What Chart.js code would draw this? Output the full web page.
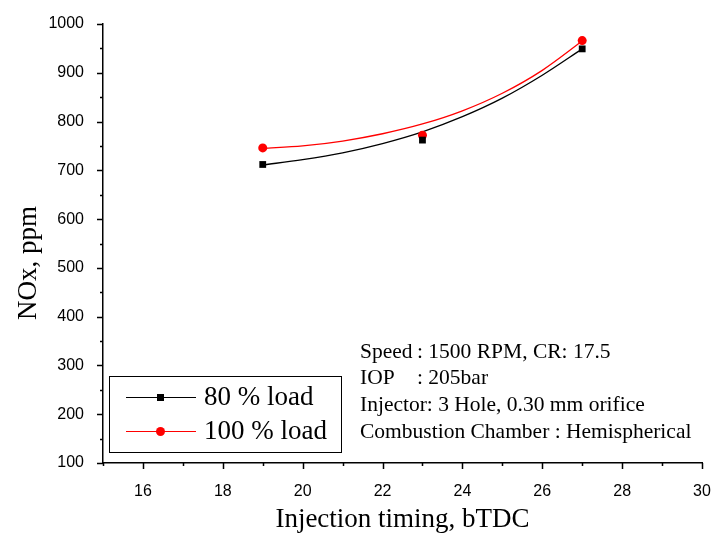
<!DOCTYPE html>
<html>
<head>
<meta charset="utf-8">
<script src="https://cdn.jsdelivr.net/npm/chart.js@4/dist/chart.umd.min.js"></script>
<style>
  body { margin: 0; background: #fff; }
  #wrap { width: 711px; height: 536px; position: relative; }
</style>
</head>
<body>
<div id="wrap"><canvas id="canvas"></canvas></div>
<script>
// measured points
var timing = [19, 23, 27];
var load80 = [712, 762, 949];
var load100 = [746, 772, 966];

// smooth fitted curves
var fitTiming = [19, 20, 21, 22, 23, 24, 25, 26, 27];
var fit80 = [711, 722, 736, 755, 779, 810, 848, 895, 949];
var fit100 = [745, 750, 760, 775, 795, 822, 858, 905, 965];

var xTickLabels = [16, 18, 20, 22, 24, 26, 28, 30];
var yTickLabels = [100, 200, 300, 400, 500, 600, 700, 800, 900, 1000];

var noteKeys = ['Speed', 'IOP', 'Injector: 3 Hole, 0.30 mm orifice', 'Combustion Chamber : Hemispherical'];
var noteVals = [': 1500 RPM, CR: 17.5', ': 205bar', '', ''];

function pts(xs, ys) {
    return xs.map(function (x, i) { return { x: x, y: ys[i] }; });
}

var serif = '"Liberation Serif", "Times New Roman", serif';
var sans = '"Liberation Sans", Arial, sans-serif';

// ticks, y title, legend and notes
var extras = {
    id: 'extras',
    afterDraw: function (chart) {
        var c = chart.ctx;
        var xs = chart.scales.x, ys = chart.scales.y;
        var a = chart.chartArea;
        c.save();
        c.strokeStyle = '#000';
        c.lineWidth = 1.5;
        c.beginPath();
        for (var v = 15; v <= 30; v++) {
            var px = Math.round(xs.getPixelForValue(v)) + 0.5;
            var len = (v % 2 === 0) ? 6 : 3;
            c.moveTo(px, a.bottom); c.lineTo(px, a.bottom + len);
        }
        for (var w = 100; w <= 1000; w += 50) {
            var py = Math.round(ys.getPixelForValue(w)) + 0.5;
            var l2 = (w % 100 === 0) ? 6 : 3;
            c.moveTo(a.left, py); c.lineTo(a.left - l2, py);
        }
        c.stroke();

        // y title
        c.fillStyle = '#000';
        c.font = '27px ' + serif;
        c.translate(29, 263);
        c.rotate(-Math.PI / 2);
        c.textAlign = 'center';
        c.textBaseline = 'middle';
        c.fillText('NOx, ppm', 0, 0);
        c.restore();

        // legend
        c.save();
        var bx = a.left + 6, by = a.bottom - 87, bw = 232, bh = 76;
        c.strokeStyle = '#000';
        c.lineWidth = 1;
        c.strokeRect(bx + 0.5, by + 0.5, bw, bh);
        var items = chart.data.datasets.filter(function (d) { return d.inLegend; });
        items.forEach(function (d, i) {
            var yy = by + 21 + i * 34;
            c.strokeStyle = d.borderColor;
            c.lineWidth = 1;
            c.beginPath();
            c.moveTo(bx + 17, yy + 0.5); c.lineTo(bx + 87, yy + 0.5);
            c.stroke();
            c.fillStyle = d.backgroundColor;
            if (d.pointStyle === 'rect') {
                c.fillRect(bx + 48, yy - 3, 7, 7);
            } else {
                c.beginPath();
                c.arc(bx + 51.5, yy + 0.5, 4.5, 0, Math.PI * 2);
                c.fill();
            }
            c.fillStyle = '#000';
            c.font = '27px ' + serif;
            c.textBaseline = 'middle';
            c.fillText(d.label, bx + 95, yy + 1);
        });

        // notes
        c.font = '21.5px ' + serif;
        c.fillStyle = '#000';
        c.textBaseline = 'middle';
        noteKeys.forEach(function (t, i) {
            var yy = 352 + i * 26.7;
            c.fillText(t, 360, yy);
            if (noteVals[i]) c.fillText(noteVals[i], 417, yy);
        });
        c.restore();
    }
};

var ctx = document.getElementById('canvas').getContext('2d');
var myChart = new Chart(ctx, {
    type: 'scatter',
    data: {
        datasets: [{
            label: '80 % load',
            inLegend: true,
            data: pts(timing, load80),
            pointStyle: 'rect',
            pointRadius: 4.8,
            backgroundColor: '#000',
            borderColor: '#000',
            borderWidth: 0,
            showLine: false
        },
        {
            label: '100 % load',
            inLegend: true,
            data: pts(timing, load100),
            pointStyle: 'circle',
            pointRadius: 4.5,
            backgroundColor: '#ff0000',
            borderColor: '#ff0000',
            borderWidth: 0,
            showLine: false
        },
        {
            label: 'fit 80',
            data: pts(fitTiming, fit80),
            showLine: true,
            pointRadius: 0,
            borderColor: '#000',
            borderWidth: 1.3,
            cubicInterpolationMode: 'monotone'
        },
        {
            label: 'fit 100',
            data: pts(fitTiming, fit100),
            showLine: true,
            pointRadius: 0,
            borderColor: '#ff0000',
            borderWidth: 1.3,
            cubicInterpolationMode: 'monotone'
        }]
    },
    options: {
        responsive: true,
        maintainAspectRatio: false,
        animation: false,
        layout: { padding: { left: 0, top: 24, right: 9, bottom: 0 } },
        plugins: {
            legend: { display: false },
            tooltip: { enabled: false }
        },
        scales: {
            x: {
                type: 'linear',
                min: 15,
                max: 30,
                afterFit: function (s) { s.height = 73; s.paddingLeft = 0; s.paddingRight = 0; },
                afterBuildTicks: function (s) {
                    s.ticks = xTickLabels.map(function (v) { return { value: v }; });
                },
                grid: { display: false },
                border: { display: true, color: '#000', width: 1.5 },
                ticks: {
                    color: '#000',
                    font: { family: sans, size: 16 },
                    padding: 11,
                    maxRotation: 0,
                    autoSkip: false,
                    callback: function (v) { return String(v); }
                },
                title: {
                    display: true,
                    text: 'Injection timing, bTDC',
                    color: '#000',
                    font: { family: serif, size: 27 },
                    padding: { top: 0, bottom: 0 }
                }
            },
            y: {
                min: 100,
                max: 1000,
                afterFit: function (s) { s.width = 103; s.paddingTop = 0; s.paddingBottom = 0; },
                afterBuildTicks: function (s) {
                    s.ticks = yTickLabels.map(function (v) { return { value: v }; });
                },
                grid: { display: false },
                border: { display: true, color: '#000', width: 1.5 },
                ticks: {
                    color: '#000',
                    font: { family: sans, size: 16 },
                    padding: 11,
                    autoSkip: false,
                    callback: function (v) { return String(v); }
                }
            }
        }
    },
    plugins: [extras]
});
</script>
</body>
</html>
